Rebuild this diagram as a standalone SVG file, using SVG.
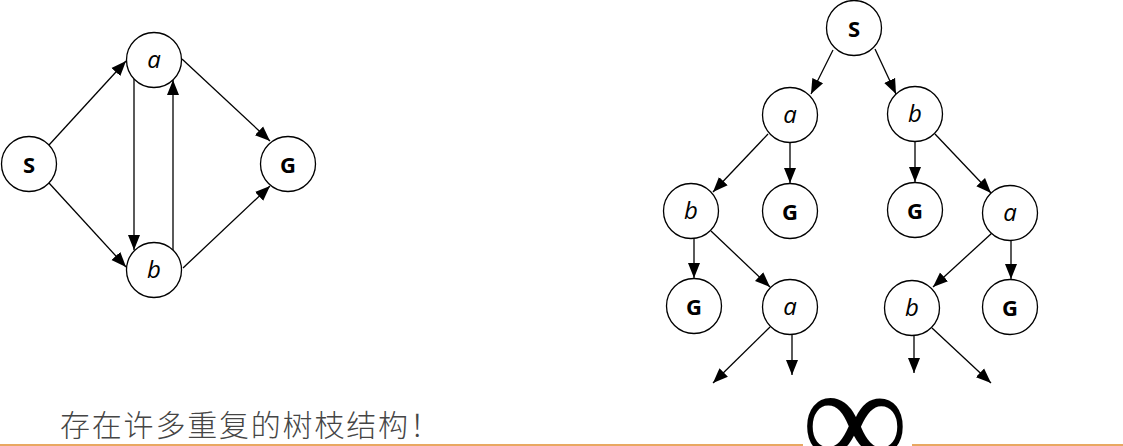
<svg xmlns="http://www.w3.org/2000/svg" width="1123" height="446" viewBox="0 0 1123 446">
  <defs>
    <marker id="arrow" markerUnits="userSpaceOnUse" markerWidth="16" markerHeight="14" viewBox="0 0 16 14" refX="15" refY="7" orient="auto">
      <path d="M0,1 L15,7 L0,13 Z" fill="#000"/>
    </marker>
    <style>
      .node circle { fill: #fff; stroke: #000; stroke-width: 1.3; }
      .lbl { font-family: "Open Sans", "Liberation Sans", sans-serif; text-anchor: middle; fill: #000; }
      .bold { font-weight: bold; font-size: 22px; }
      .ital { font-style: italic; font-size: 24px; }
      .edges path { stroke: #000; stroke-width: 1.3; fill: none; marker-end: url(#arrow); }
      .rule { stroke: #E08B2D; stroke-width: 1.5; }
    </style>
  </defs>
  <rect width="1123" height="446" fill="#fff"/>

  <!-- state graph -->
  <g id="edges-graph" class="edges">
    <path d="M49,145 L126,61"/>
    <path d="M49,183 L126,267"/>
    <path d="M134,79 L134,250"/>
    <path d="M173,250 L173,80"/>
    <path d="M182,59 L270,141"/>
    <path d="M183,268 L270,186"/>
  </g>
  <g id="g-S" class="node"><circle cx="29" cy="164" r="27.5"/><text class="lbl bold" x="29" y="173">S</text></g>
  <g id="g-a" class="node"><circle cx="154" cy="60" r="27.5"/><text class="lbl ital" x="154" y="68">a</text></g>
  <g id="g-b" class="node"><circle cx="154" cy="270" r="27.5"/><text class="lbl ital" x="154" y="278">b</text></g>
  <g id="g-G" class="node"><circle cx="288" cy="164" r="27.5"/><text class="lbl bold" x="288" y="173">G</text></g>

  <!-- search tree -->
  <g id="edges-tree" class="edges">
    <path d="M833,50 L811,94"/>
    <path d="M875,49 L896,94"/>
    <path d="M768,134 L713,192"/>
    <path d="M790,143 L790,183"/>
    <path d="M915,142 L915,182"/>
    <path d="M935,134 L991,193"/>
    <path d="M694,238 L694,278"/>
    <path d="M711,231 L770,287"/>
    <path d="M992,233 L933,287"/>
    <path d="M1011,241 L1011,279"/>
    <path d="M770,327 L713,383"/>
    <path d="M792,335 L792,375"/>
    <path d="M914,336 L914,373"/>
    <path d="M932,328 L991,383"/>
  </g>
  <g id="t-S" class="node"><circle cx="854" cy="28" r="27.5"/><text class="lbl bold" x="854" y="37">S</text></g>
  <g id="t-a1" class="node"><circle cx="790" cy="115" r="27.5"/><text class="lbl ital" x="790" y="123">a</text></g>
  <g id="t-b1" class="node"><circle cx="915" cy="114" r="27.5"/><text class="lbl ital" x="915" y="122">b</text></g>
  <g id="t-b2" class="node"><circle cx="691" cy="211" r="27.5"/><text class="lbl ital" x="691" y="219">b</text></g>
  <g id="t-G2a" class="node"><circle cx="790" cy="211" r="27.5"/><text class="lbl bold" x="790" y="220">G</text></g>
  <g id="t-G2b" class="node"><circle cx="915" cy="210" r="27.5"/><text class="lbl bold" x="915" y="219">G</text></g>
  <g id="t-a2" class="node"><circle cx="1010" cy="213" r="27.5"/><text class="lbl ital" x="1010" y="221">a</text></g>
  <g id="t-G3a" class="node"><circle cx="694" cy="306" r="27.5"/><text class="lbl bold" x="694" y="315">G</text></g>
  <g id="t-a3" class="node"><circle cx="790" cy="307" r="27.5"/><text class="lbl ital" x="790" y="315">a</text></g>
  <g id="t-b3" class="node"><circle cx="912" cy="308" r="27.5"/><text class="lbl ital" x="912" y="316">b</text></g>
  <g id="t-G3b" class="node"><circle cx="1010" cy="307" r="27.5"/><text class="lbl bold" x="1010" y="316">G</text></g>

  <!-- caption, rule line and infinity sign -->
  <text x="60" y="436" font-family="'Noto Sans CJK SC', sans-serif" font-size="30" font-weight="300" fill="#454545" letter-spacing="1.8">存在许多重复的树枝结构！</text>
  <line class="rule" x1="0" y1="445" x2="803" y2="445"/>
  <line class="rule" x1="912" y1="445" x2="1123" y2="445"/>
  <text x="855" y="470" font-family="'Liberation Serif', serif" font-size="150" text-anchor="middle" fill="#000">∞</text>
</svg>
